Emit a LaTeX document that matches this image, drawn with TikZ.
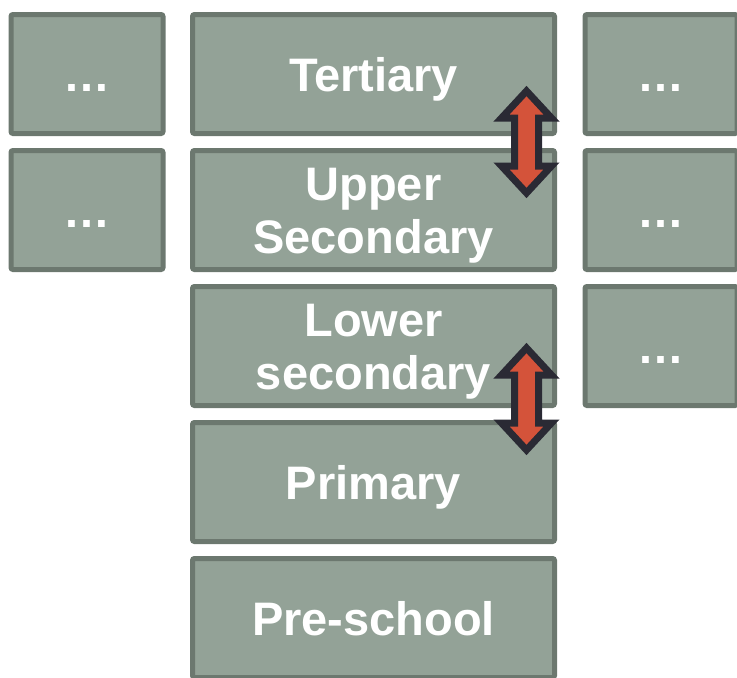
\documentclass[tikz,border=0pt]{standalone}
\usepackage{fontspec}
\setmainfont{Liberation Sans}
\definecolor{boxfill}{RGB}{147,162,151}
\definecolor{boxline}{RGB}{108,120,111}
\definecolor{arrowfill}{RGB}{212,83,58}
\definecolor{arrowline}{RGB}{42,42,52}
\tikzset{
  stage/.style={draw=boxline, fill=boxfill, line width=5pt, rounded corners=2pt,
    minimum height=119pt, inner sep=0pt, text=white,
    font=\fontsize{47}{53}\selectfont\bfseries, align=center,
    text height=34pt, text depth=0pt},
  twoline/.style={text height=87pt},
  wide/.style={stage, minimum width=362pt},
  narrow/.style={stage, minimum width=152pt},
  link/.style={draw=arrowline, fill=arrowfill, line width=7pt, line join=miter}
}
\begin{document}
\begin{tikzpicture}[x=1pt,y=-1pt]
  \useasboundingbox (0,0) rectangle (737,678);
  \clip (0,0) rectangle (737,678);
  % central column of stages
  \node[wide] (tert) at (373.5,74) {Tertiary};
  \node[wide, twoline] (upper) at (373.5,210) {Upper\\Secondary};
  \node[wide, twoline] (lower) at (373.5,346) {Lower\\secondary};
  \node[wide] (prim) at (373.5,482) {Primary};
  \node[wide] (pre) at (373.5,618) {Pre-school};
  % side columns
  \node[narrow] (l1) at (87,74) {\dots};
  \node[narrow] (l2) at (87,210) {\dots};
  \node[narrow] (r1) at (661,74) {\dots};
  \node[narrow] (r2) at (661,210) {\dots};
  \node[narrow] (r3) at (661,346) {\dots};
  % transitions between stages
  \coordinate (a1) at (526.5,91);
  \coordinate (a2) at (526.5,348);
  \foreach \c/\len in {a1/102, a2/102}{
    \draw[link] (\c) -- ++(25,27) -- ++(-13,0) -- ++(0,\len-54) -- ++(13,0)
      -- ++(-25,27) -- ++(-25,-27) -- ++(13,0) -- ++(0,-\len+54) -- ++(-13,0) -- cycle;
  }
\end{tikzpicture}
\end{document}
